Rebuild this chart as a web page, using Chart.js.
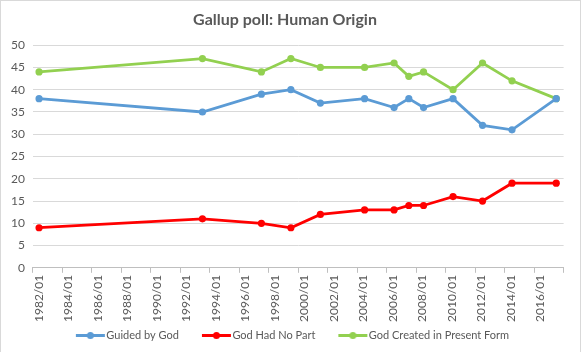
<!DOCTYPE html>
<html>
<head>
<meta charset="utf-8">
<script src="https://cdn.jsdelivr.net/npm/chart.js@4/dist/chart.umd.min.js"></script>
<style>
  html, body { margin: 0; padding: 0; background: #fff; }
  #wrap { width: 581px; height: 353px; box-sizing: border-box; border: 1px solid #d9d9d9; position: relative; }
</style>
</head>
<body>
<div id="wrap"><canvas id="chart"></canvas></div>
<script>
// poll dates (year/month) and the three series
const pollDates = ["1982/06", "1993/07", "1997/07", "1999/07", "2001/07", "2004/07", "2006/07", "2007/07", "2008/07", "2010/07", "2012/07", "2014/07", "2017/07"];
const guidedByGod = [38, 35, 39, 40, 37, 38, 36, 38, 36, 38, 32, 31, 38];
const godHadNoPart = [9, 11, 10, 9, 12, 13, 13, 14, 14, 16, 15, 19, 19];
const presentForm = [44, 47, 44, 47, 45, 45, 46, 43, 44, 40, 46, 42, 38];
const yTicks = [0, 5, 10, 15, 20, 25, 30, 35, 40, 45, 50];
const xTickYears = [1982, 1984, 1986, 1988, 1990, 1992, 1994, 1996, 1998, 2000, 2002, 2004, 2006, 2008, 2010, 2012, 2014, 2016];

const textColor = "#595959";
const fontFamily = "Lato, 'Liberation Sans', sans-serif";

function toYear(s) {
    const [y, m] = s.split("/").map(Number);
    return y + (m - 1) / 12;
}

function points(values) {
    return values.map((v, i) => ({ x: toYear(pollDates[i]), y: v }));
}

// line-with-dot marker for the legend (left part left transparent as spacing)
function legendMarker(color) {
    const c = document.createElement("canvas");
    c.width = 50;
    c.height = 9;
    const g = c.getContext("2d");
    g.strokeStyle = color;
    g.lineWidth = 3;
    g.beginPath();
    g.moveTo(20, 4.5);
    g.lineTo(49, 4.5);
    g.stroke();
    g.fillStyle = color;
    g.beginPath();
    g.arc(34.5, 4.5, 3.5, 0, Math.PI * 2);
    g.fill();
    return c;
}

function series(label, values, color) {
    return {
        label: label,
        data: points(values),
        borderColor: color,
        backgroundColor: color,
        borderWidth: 2.75,
        pointRadius: 3.6,
        pointBorderWidth: 0,
        pointHoverRadius: 3.6,
        tension: 0,
    };
}

const ctx = document.getElementById("chart").getContext("2d");
new Chart(ctx, {
    type: "line",
    data: {
        datasets: [
            series("Guided by God", guidedByGod, "#5B9BD5"),
            series("God Had No Part", godHadNoPart, "#FF0000"),
            series("God Created in Present Form", presentForm, "#92D050"),
        ],
    },
    options: {
        responsive: true,
        maintainAspectRatio: false,
        animation: false,
        layout: { padding: { top: 4, right: 13, left: 2, bottom: 1 } },
        plugins: {
            title: {
                display: true,
                text: "Gallup poll: Human Origin",
                color: textColor,
                font: { family: fontFamily, size: 16, weight: "bold" },
                padding: { top: 5, bottom: 16 },
            },
            legend: {
                position: "bottom",
                labels: {
                    color: textColor,
                    font: { family: fontFamily, size: 11 },
                    usePointStyle: true,
                    pointStyleWidth: 40,
                    padding: 8,
                    generateLabels: function (chart) {
                        const items = Chart.defaults.plugins.legend.labels.generateLabels(chart);
                        items.forEach(function (it) {
                            it.pointStyle = legendMarker(chart.data.datasets[it.datasetIndex].borderColor);
                        });
                        return items;
                    },
                },
            },
            tooltip: { enabled: false },
        },
        scales: {
            x: {
                type: "linear",
                min: 1982,
                max: 2018,
                afterBuildTicks: function (axis) {
                    axis.ticks = xTickYears.concat([2018]).map((v) => ({ value: v }));
                },
                afterFit: function (axis) {
                    axis.height -= 2;
                },
                ticks: {
                    color: textColor,
                    font: { family: fontFamily, size: 12 },
                    minRotation: 90,
                    maxRotation: 90,
                    autoSkip: false,
                    padding: 2,
                    labelOffset: 6,
                    callback: function (value) {
                        return value === 2018 ? "" : value + "/01";
                    },
                },
                grid: {
                    display: true,
                    drawOnChartArea: false,
                    drawTicks: true,
                    tickLength: 5,
                    color: "#bfbfbf",
                },
                border: { color: "#bfbfbf" },
            },
            y: {
                min: 0,
                max: 50,
                afterBuildTicks: function (axis) {
                    axis.ticks = yTicks.map((v) => ({ value: v }));
                },
                ticks: {
                    color: textColor,
                    font: { family: fontFamily, size: 12 },
                    padding: 8,
                },
                grid: { color: "#d9d9d9", drawTicks: false },
                border: { display: false },
            },
        },
    },
});
</script>
</body>
</html>
